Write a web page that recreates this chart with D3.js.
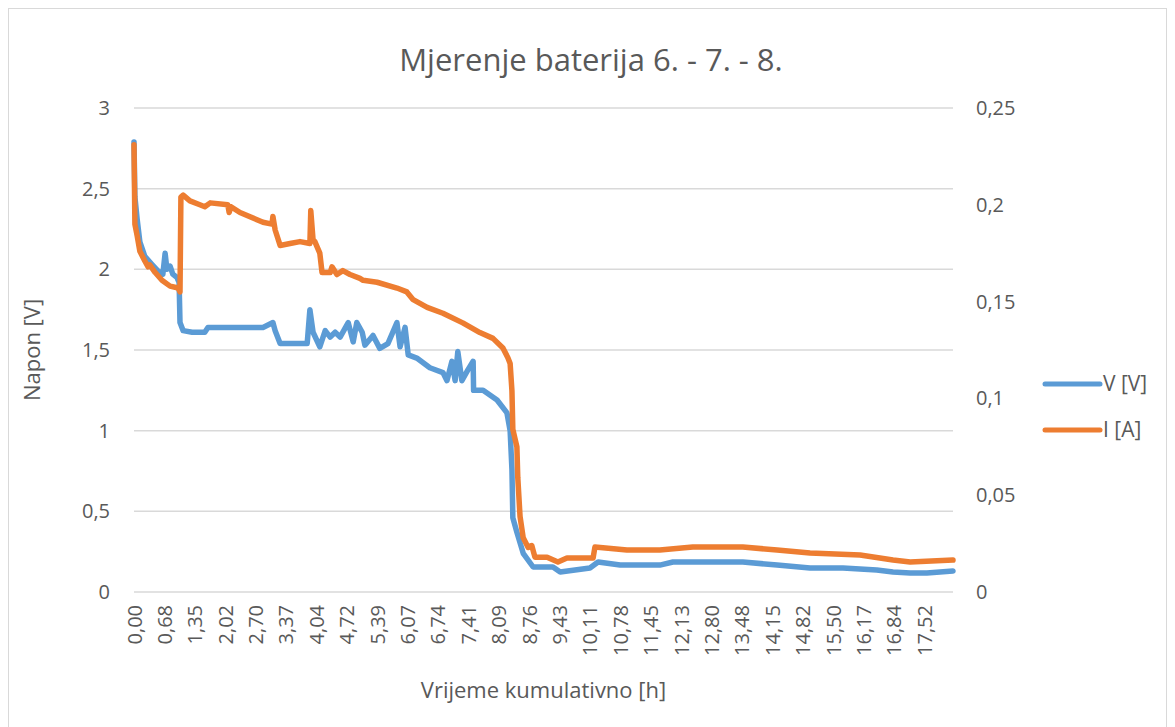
<!DOCTYPE html>
<html>
<head>
<meta charset="utf-8">
<script src="https://cdn.jsdelivr.net/npm/d3@7"></script>
<style>
  body { margin: 0; background: #fff; }
  text { font-family: "Open Sans", sans-serif; fill: #595959; }
</style>
</head>
<body>
<svg id="svg" width="1175" height="727"></svg>
<script>
// Mjerenje baterija - napon i struja kroz vrijeme
let svg = d3.select("#svg");
let width = +svg.attr("width");
let height = +svg.attr("height");

// x axis labels (category labels in hours)
const tickLabels = ["0,00", "0,68", "1,35", "2,02", "2,70", "3,37", "4,04", "4,72", "5,39",
  "6,07", "6,74", "7,41", "8,09", "8,76", "9,43", "10,11", "10,78", "11,45", "12,13",
  "12,80", "13,48", "14,15", "14,82", "15,50", "16,17", "16,84", "17,52"];
const voltTicks = [0, 0.5, 1, 1.5, 2, 2.5, 3];
const currTicks = [0, 0.05, 0.1, 0.15, 0.2, 0.25];

// V [V] series
const vTime = [0, 0.02, 0.07, 0.13, 0.24, 0.40, 0.53, 0.64, 0.69, 0.73, 0.80, 0.86, 0.95, 1.00,
  1.02, 1.09, 1.29, 1.57, 1.64, 2.02, 2.13, 2.86, 3.08, 3.13, 3.24, 3.46, 3.84, 3.90, 3.97,
  4.12, 4.24, 4.35, 4.46, 4.57, 4.75, 4.86, 4.94, 5.06, 5.12, 5.30, 5.45, 5.63, 5.83, 5.90,
  6.01, 6.08, 6.27, 6.56, 6.85, 6.94, 7.05, 7.12, 7.18, 7.27, 7.41, 7.52, 7.53, 7.74, 8.05,
  8.27, 8.34, 8.38, 8.40, 8.49, 8.63, 8.85, 9.29, 9.45, 10.11, 10.29, 10.78, 11.66, 11.95,
  13.50, 14.26, 14.99, 15.72, 16.47, 16.83, 17.21, 17.58, 18.16];
const vValues = [2.79, 2.45, 2.31, 2.17, 2.08, 2.03, 1.99, 1.97, 2.10, 2.00, 2.02, 1.97, 1.95, 1.92,
  1.67, 1.62, 1.61, 1.61, 1.64, 1.64, 1.64, 1.64, 1.67, 1.62, 1.54, 1.54, 1.54, 1.75, 1.61,
  1.52, 1.62, 1.58, 1.61, 1.58, 1.67, 1.55, 1.67, 1.61, 1.53, 1.59, 1.51, 1.54, 1.67, 1.52,
  1.64, 1.47, 1.45, 1.39, 1.36, 1.31, 1.43, 1.31, 1.49, 1.31, 1.38, 1.43, 1.25, 1.25, 1.19,
  1.11, 1.00, 0.76, 0.46, 0.37, 0.24, 0.155, 0.155, 0.124, 0.149, 0.186, 0.167, 0.167, 0.186,
  0.186, 0.167, 0.149, 0.149, 0.136, 0.124, 0.118, 0.118, 0.130];

// I [A] series
const iTime = [0, 0.02, 0.07, 0.13, 0.24, 0.31, 0.35, 0.47, 0.62, 0.80, 0.98, 1.02, 1.04, 1.09,
  1.24, 1.46, 1.57, 1.69, 2.08, 2.11, 2.15, 2.35, 2.86, 3.06, 3.08, 3.13, 3.24, 3.46, 3.68,
  3.90, 3.92, 3.97, 4.01, 4.12, 4.17, 4.35, 4.39, 4.50, 4.63, 4.79, 5.01, 5.08, 5.39, 5.83,
  6.05, 6.19, 6.50, 6.85, 7.29, 7.67, 7.96, 8.18, 8.29, 8.34, 8.38, 8.40, 8.49, 8.51, 8.56,
  8.63, 8.74, 8.82, 8.89, 9.16, 9.40, 9.60, 10.18, 10.22, 10.93, 11.66, 12.39, 13.50, 14.26,
  14.99, 16.10, 16.83, 17.21, 18.16];
const iValues = [0.231, 0.190, 0.184, 0.176, 0.171, 0.168, 0.169, 0.165, 0.161, 0.158, 0.157, 0.155,
  0.204, 0.205, 0.202, 0.200, 0.199, 0.201, 0.200, 0.196, 0.199, 0.196, 0.191, 0.190, 0.194,
  0.187, 0.179, 0.180, 0.181, 0.180, 0.197, 0.182, 0.181, 0.175, 0.165, 0.165, 0.168, 0.164,
  0.166, 0.164, 0.162, 0.161, 0.160, 0.157, 0.155, 0.151, 0.147, 0.144, 0.139, 0.134, 0.131,
  0.126, 0.121, 0.118, 0.104, 0.084, 0.075, 0.059, 0.039, 0.028, 0.023, 0.024, 0.018, 0.018,
  0.0155, 0.0176, 0.0176, 0.0232, 0.0217, 0.0217, 0.0232, 0.0232, 0.0217, 0.0201, 0.0191,
  0.0165, 0.0155, 0.0165];

const seriesNames = ["V [V]", "I [A]"];
const colors = ["#5b9bd5", "#ed7d31"];

// plot area
let plotLeft = 134, plotRight = 953, plotTop = 108, plotBottom = 592;

let x = d3.scaleLinear().domain([0, 18.16]).range([plotLeft, plotRight]);
let yV = d3.scaleLinear().domain([0, 3]).range([plotBottom, plotTop]);
let yI = d3.scaleLinear().domain([0, 0.25]).range([plotBottom, plotTop]);

let fmt = (d) => String(d).replace(".", ",");

// chart border
svg.append("rect")
  .attr("x", 8.5).attr("y", 8.5)
  .attr("width", 1158).attr("height", 740)
  .style("fill", "none")
  .style("stroke", "#d9d9d9");

// title
svg.append("text")
  .attr("x", 591).attr("y", 71)
  .attr("text-anchor", "middle")
  .style("font-size", "31px")
  .text("Mjerenje baterija 6. - 7. - 8.");

// gridlines
svg.append("g")
  .selectAll("line")
  .data(voltTicks)
  .enter()
  .append("line")
  .attr("x1", plotLeft).attr("x2", plotRight)
  .attr("y1", (d) => yV(d)).attr("y2", (d) => yV(d))
  .style("stroke", "#d9d9d9")
  .style("stroke-width", 1.5);

// left axis
let axisL = svg.append("g")
  .attr("transform", `translate(${plotLeft},0)`)
  .call(d3.axisLeft(yV).tickValues(voltTicks).tickFormat(fmt).tickSize(0).tickPadding(24));
axisL.select(".domain").remove();
axisL.selectAll("text").style("font-size", "20px").style("font-family", "Open Sans").attr("fill", "#595959");

// right axis
let axisR = svg.append("g")
  .attr("transform", `translate(${plotRight},0)`)
  .call(d3.axisRight(yI).tickValues(currTicks).tickFormat(fmt).tickSize(0).tickPadding(23));
axisR.select(".domain").remove();
axisR.selectAll("text").style("font-size", "20px").style("font-family", "Open Sans").attr("fill", "#595959");

// bottom axis with rotated labels
let axisB = svg.append("g")
  .attr("transform", `translate(0,${plotBottom})`)
  .call(d3.axisBottom(x)
    .tickValues(tickLabels.map((s) => +s.replace(",", ".")))
    .tickFormat((d, i) => tickLabels[i])
    .tickSize(0));
axisB.select(".domain").remove();
axisB.selectAll("text")
  .attr("transform", "rotate(-90)")
  .attr("x", -13).attr("y", 0).attr("dy", "0.35em")
  .attr("text-anchor", "end")
  .style("font-size", "20px").style("font-family", "Open Sans").attr("fill", "#595959");

// axis titles
svg.append("text")
  .attr("transform", `translate(40,${(plotTop + plotBottom) / 2}) rotate(-90)`)
  .attr("text-anchor", "middle")
  .style("font-size", "22px")
  .text("Napon [V]");

svg.append("text")
  .attr("x", (plotLeft + plotRight) / 2).attr("y", 698)
  .attr("text-anchor", "middle")
  .style("font-size", "22px")
  .text("Vrijeme kumulativno [h]");

// lines
let lineV = d3.line().x((d) => x(d[0])).y((d) => yV(d[1]));
let lineI = d3.line().x((d) => x(d[0])).y((d) => yI(d[1]));

svg.append("path")
  .attr("d", lineV(d3.zip(vTime, vValues)))
  .style("fill", "none")
  .style("stroke", colors[0])
  .style("stroke-width", 5.5)
  .style("stroke-linejoin", "round")
  .style("stroke-linecap", "round");

svg.append("path")
  .attr("d", lineI(d3.zip(iTime, iValues)))
  .style("fill", "none")
  .style("stroke", colors[1])
  .style("stroke-width", 5.5)
  .style("stroke-linejoin", "round")
  .style("stroke-linecap", "round");

// legend
let legend = svg.append("g")
  .selectAll("g")
  .data(seriesNames)
  .enter()
  .append("g")
  .attr("transform", (d, i) => `translate(1045,${384 + i * 46})`);

legend.append("line")
  .attr("x1", 0).attr("x2", 55)
  .style("stroke", (d, i) => colors[i])
  .style("stroke-width", 5)
  .style("stroke-linecap", "round");

legend.append("text")
  .attr("x", 58).attr("dy", "0.35em")
  .style("font-size", "21px")
  .text((d) => d);
</script>
</body>
</html>
